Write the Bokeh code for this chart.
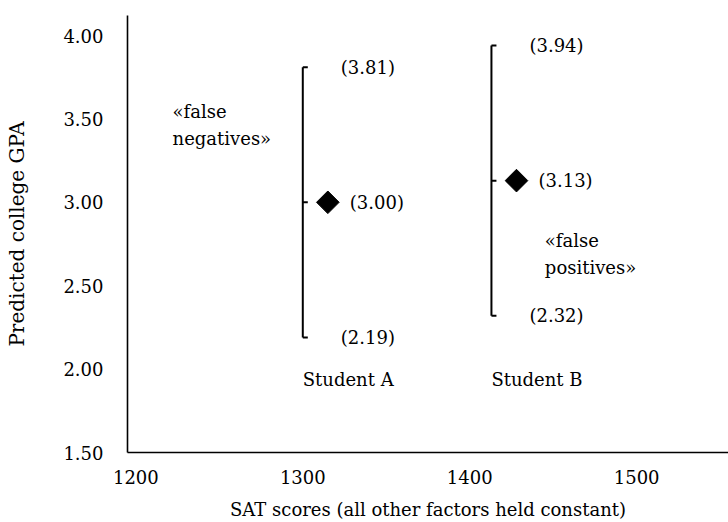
import math

from bokeh.core.properties import value
from bokeh.embed import file_html
from bokeh.models import FixedTicker, NumeralTickFormatter
from bokeh.plotting import figure
from bokeh.resources import INLINE

# --- data -------------------------------------------------------------
students = ["Student A", "Student B"]
sat_scores = [1315, 1428]          # where each student's predicted GPA is plotted
predicted_gpa = [3.00, 3.13]
interval_x = [1300, 1413]          # SAT position of each prediction interval
gpa_upper = [3.81, 3.94]
gpa_lower = [2.19, 2.32]

x_ticks = [1200, 1300, 1400, 1500]
y_ticks = [1.50, 2.00, 2.50, 3.00, 3.50, 4.00]

neg_note = ["«false", "negatives»"]
pos_note = ["«false", "positives»"]

# --- styling / layout -------------------------------------------------
FONT = "DejaVu Serif"
FS = "18px"
INK = "#000000"
CAP = 3  # cap length of the interval ends, in SAT units

p = figure(
    width=728, height=522,
    x_range=(1195, 1555), y_range=(1.5, 4.12),
    output_backend="svg", toolbar_location=None,
    min_border_left=127, min_border_right=0,
    min_border_top=15, min_border_bottom=68,
)
p.outline_line_color = None
p.grid.visible = False
p.background_fill_color = "white"
p.border_fill_color = "white"

for ax in (p.xaxis[0], p.yaxis[0]):
    ax.axis_line_color = INK
    ax.axis_line_width = 1.6
    ax.major_tick_line_color = None
    ax.minor_tick_line_color = None
    ax.major_label_text_font = FONT
    ax.major_label_text_font_size = FS
    ax.major_label_text_color = INK
    ax.axis_label_text_font = FONT
    ax.axis_label_text_font_size = FS
    ax.axis_label_text_font_style = "normal"
    ax.axis_label_text_color = INK

p.yaxis.axis_label_text_font_size = "20px"
p.xaxis.ticker = FixedTicker(ticks=x_ticks)
p.yaxis.ticker = FixedTicker(ticks=y_ticks)
p.yaxis.formatter = NumeralTickFormatter(format="0.00")
p.xaxis.major_label_standoff = 11
p.yaxis.major_label_standoff = 18
p.xaxis.axis_label = "SAT scores (all other factors held constant)"
p.yaxis.axis_label = "Predicted college GPA"
p.xaxis.axis_label_standoff = 12
p.yaxis.axis_label_standoff = 31

# prediction intervals: vertical line with short caps on the right
p.segment(x0=interval_x, y0=gpa_lower, x1=interval_x, y1=gpa_upper,
          line_color=INK, line_width=2)
cap_x1 = [x + CAP for x in interval_x]
for ys in (gpa_upper, gpa_lower, predicted_gpa):
    p.segment(x0=interval_x, y0=ys, x1=cap_x1, y1=ys,
              line_color=INK, line_width=2)

# predicted GPA points (diamonds)
p.scatter(x=sat_scores, y=predicted_gpa, marker="square", angle=math.pi / 4,
          size=16, fill_color=INK, line_color=INK)

text_kw = dict(text_font=value(FONT), text_font_size=FS, text_color=INK,
               text_align="left", text_baseline="middle")

p.text(x=interval_x, y=gpa_upper, text=[f"({v:.2f})" for v in gpa_upper],
       x_offset=38, **text_kw)
p.text(x=interval_x, y=gpa_lower, text=[f"({v:.2f})" for v in gpa_lower],
       x_offset=38, **text_kw)
p.text(x=sat_scores, y=predicted_gpa, text=[f"({v:.2f})" for v in predicted_gpa],
       x_offset=22, **text_kw)

# student names under each interval
p.text(x=interval_x, y=[1.936] * len(students), text=students, **text_kw)

# notes on either side
p.text(x=[1222, 1222], y=[3.547, 3.385], text=neg_note, **text_kw)
p.text(x=[1445, 1445], y=[2.771, 2.610], text=pos_note, **text_kw)

open("out.html", "w").write(file_html(p, INLINE))
